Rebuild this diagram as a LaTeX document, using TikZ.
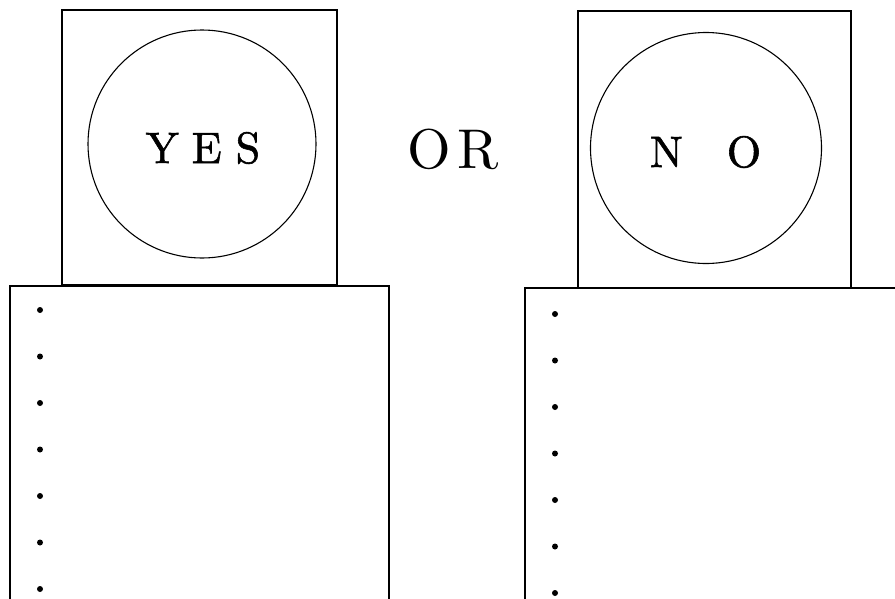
\documentclass[tikz,border=0pt]{standalone}
\usepackage{fontspec}
\newfontfamily\demifont{lmroman10-regular.otf}[FakeBold=1.3]
\newfontfamily\plainfont{lmroman10-regular.otf}
\tikzset{
  card/.style={draw, line width=1.1pt, minimum width=#1, minimum height=#1, inner sep=0pt},
  disc/.style={draw, circle, line width=1.1pt, minimum size=#1, inner sep=0pt},
  bigword/.style={font=\demifont\fontsize{44}{48}\selectfont, inner sep=0pt},
  pip/.style={fill, circle, inner sep=0pt, minimum size=6pt}
}
\begin{document}
\begin{tikzpicture}[x=1pt, y=-1pt]
% the page, one pixel of the scan is one point here
\useasboundingbox (0,0) rectangle (895,598);
\clip (0,0) rectangle (895,598);
% left card: a square with a disc, and the sheet below it
\node[card=275pt] (yesbox) at (199.5,147.5) {};
\node[disc=228pt] (yesdisc) at (202,144) {};
\node[bigword] (yes) at (203,148) {Y\hspace{13pt}E\hspace{14pt}S};
\draw[line width=1.1pt] (10,640) |- (389,286) -- (389,640);
% the word between the two cards
\node[bigword, font=\plainfont\fontsize{56}{60}\selectfont] (or) at (453,149) {O\hspace{6pt}R};
% right card
\node[minimum width=273pt, minimum height=277pt, draw, line width=1.1pt, inner sep=0pt] (nobox) at (714.5,149.5) {};
\node[disc=231pt] (nodisc) at (706,148) {};
\node[bigword] (no) at (705.5,152) {N\hspace{44pt}O};
\draw[line width=1.1pt] (525,640) |- (940,288);
% the bullets down each sheet
\foreach \i in {0,...,6}{
  \node[pip] (lp\i) at (40,310+46.5*\i) {};
  \node[pip] (rp\i) at (555,314+46.5*\i) {};
}
\end{tikzpicture}
\end{document}
